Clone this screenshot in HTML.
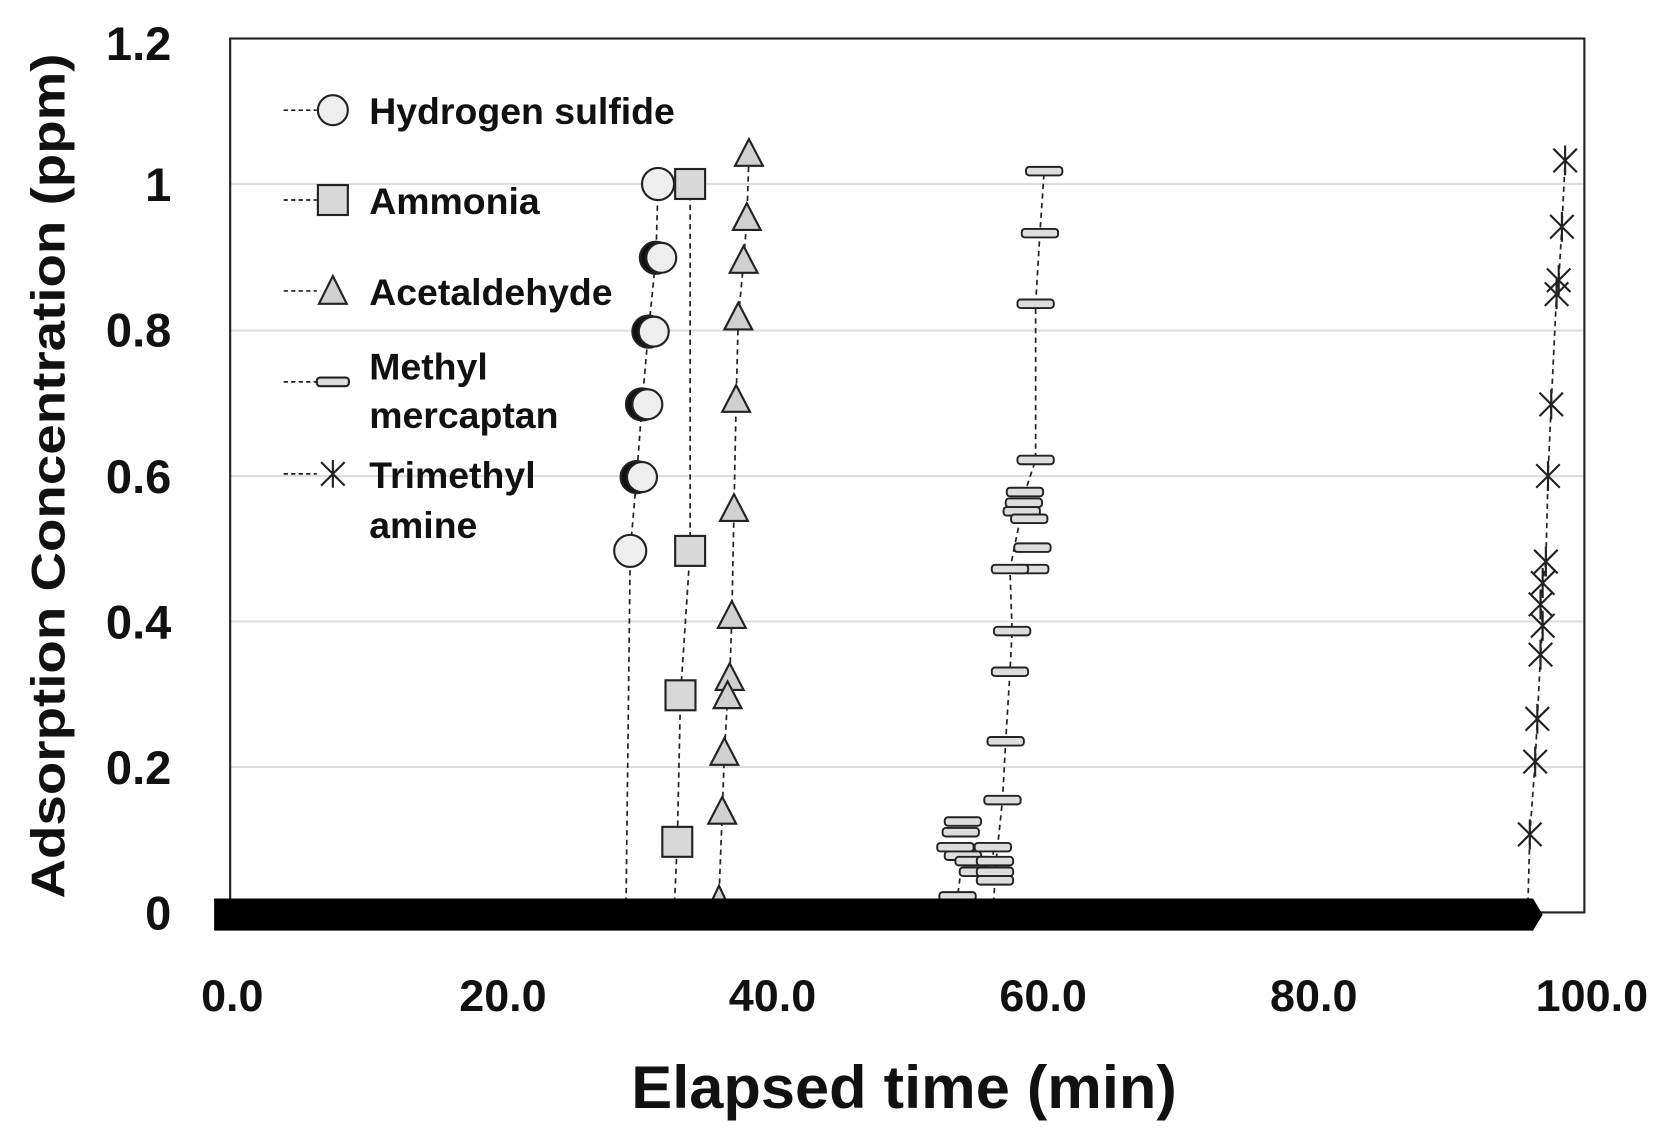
<!DOCTYPE html>
<html><head><meta charset="utf-8"><style>
html,body{margin:0;padding:0;background:#fff;}
svg text{font-family:"Liberation Sans","DejaVu Sans",sans-serif;font-weight:bold;fill:#111;}
</style></head><body>
<svg width="1668" height="1136" viewBox="0 0 1559 1062" xmlns="http://www.w3.org/2000/svg">
<rect width="1559" height="1062" fill="#fff"/>
<g stroke="#ddd" stroke-width="2">
<line x1="215" y1="172" x2="1481" y2="172"/><line x1="215" y1="309" x2="1481" y2="309"/>
<line x1="215" y1="445" x2="1481" y2="445"/><line x1="215" y1="581" x2="1481" y2="581"/>
<line x1="215" y1="717" x2="1481" y2="717"/>
</g>
<rect x="215" y="36" width="1266" height="817" fill="none" stroke="#222" stroke-width="2"/>
<!-- y ticks -->
<g font-size="44" text-anchor="end">
<text x="160" y="56">1.2</text><text x="160" y="188">1</text><text x="160" y="324">0.8</text>
<text x="160" y="461">0.6</text><text x="160" y="597">0.4</text><text x="160" y="733">0.2</text>
<text x="160" y="869">0</text></g>
<g font-size="42" text-anchor="middle">
<text x="217" y="945">0.0</text><text x="470" y="945">20.0</text><text x="722" y="945">40.0</text>
<text x="975" y="945">60.0</text><text x="1228" y="945">80.0</text><text x="1488" y="945">100.0</text></g>
<text x="845" y="1036" font-size="56" text-anchor="middle" textLength="510" lengthAdjust="spacingAndGlyphs">Elapsed time (min)</text>
<text transform="translate(60,445) rotate(-90)" font-size="44" text-anchor="middle" textLength="790" lengthAdjust="spacingAndGlyphs">Adsorption Concentration (ppm)</text>
<!-- series lines -->
<g fill="none" stroke="#222" stroke-width="1.6" stroke-dasharray="5,4">
<polyline points="585,853 589,515 595,446 600,378 606,310 613,241 615,172"/>
<polyline points="630,853 633,787 636,650 645,515 645,172"/>
<polyline points="670,853 672,838 675,760 677,705 680,652 682,635 684,577 686,477 688,375 690,298 695,245 698,205 700,145"/>
<polyline points="895,853 895,838 900,800 910,805 930,815 937,748 940,693 944,628 946,590 944,532 955,478 958,460 968,430 968,284 972,218 976,160"/>
<polyline points="928,853 930,823 928,792"/>
<polyline points="1428,853 1430,780 1435,712 1437,672 1440,612 1442,585 1440,565 1442,545 1445,525 1447,445 1450,378 1455,275 1457,262 1460,212 1463,150"/>
</g>
<!-- H2S circles -->
<g stroke="#222" stroke-width="2" fill="#eee">
<circle cx="613" cy="241" r="15" fill="#111"/><circle cx="606" cy="310" r="15" fill="#111"/><circle cx="600" cy="378" r="15" fill="#111"/><circle cx="595" cy="446" r="15" fill="#111"/>
<circle cx="615" cy="172" r="15"/><circle cx="618" cy="241" r="14"/><circle cx="611" cy="310" r="14"/><circle cx="605" cy="378" r="14"/><circle cx="600" cy="446" r="14"/><circle cx="589" cy="515" r="15"/>
</g>
<!-- squares -->
<g stroke="#222" stroke-width="2" fill="#d8d8d8">
<rect x="631" y="158" width="28" height="28"/><rect x="631" y="501" width="28" height="28"/>
<rect x="622" y="636" width="28" height="28"/><rect x="619" y="773" width="28" height="28"/>
</g>
<!-- triangles -->
<g stroke="#222" stroke-width="2" fill="#d0d0d0">
<polygon points="700,130 713,155 687,155"/><polygon points="698,190 711,215 685,215"/><polygon points="695,230 708,255 682,255"/>
<polygon points="690,283 703,308 677,308"/><polygon points="688,360 701,385 675,385"/><polygon points="686,462 699,487 673,487"/>
<polygon points="684,562 697,587 671,587"/><polygon points="682,620 695,645 669,645"/><polygon points="680,637 693,662 667,662"/>
<polygon points="677,690 690,715 664,715"/><polygon points="675,745 688,770 662,770"/><polygon points="672,828 680,845 664,845"/>
</g>
<!-- methyl mercaptan -->
<g stroke="#222" stroke-width="1.8" fill="#ddd">
<rect x="959" y="156" width="34" height="8" rx="3"/><rect x="955" y="214" width="34" height="8" rx="3"/><rect x="951" y="280" width="34" height="8" rx="3"/>
<rect x="951" y="426" width="34" height="8" rx="3"/><rect x="941" y="456" width="34" height="8" rx="3"/><rect x="940" y="466" width="34" height="8" rx="3"/>
<rect x="938" y="474" width="34" height="8" rx="3"/><rect x="945" y="481" width="34" height="8" rx="3"/><rect x="948" y="508" width="34" height="8" rx="3"/>
<rect x="946" y="528" width="34" height="8" rx="3"/><rect x="927" y="528" width="34" height="8" rx="3"/><rect x="929" y="586" width="34" height="8" rx="3"/>
<rect x="927" y="624" width="34" height="8" rx="3"/><rect x="923" y="689" width="34" height="8" rx="3"/><rect x="920" y="744" width="34" height="8" rx="3"/>
<rect x="883" y="764" width="34" height="8" rx="3"/><rect x="881" y="774" width="34" height="8" rx="3"/><rect x="876" y="788" width="34" height="8" rx="3"/>
<rect x="911" y="788" width="34" height="8" rx="3"/><rect x="883" y="796" width="34" height="8" rx="3"/><rect x="893" y="801" width="34" height="8" rx="3"/>
<rect x="913" y="801" width="34" height="8" rx="3"/><rect x="897" y="811" width="34" height="8" rx="3"/><rect x="913" y="811" width="34" height="8" rx="3"/>
<rect x="913" y="819" width="34" height="8" rx="3"/><rect x="878" y="834" width="34" height="8" rx="3"/>
</g>
<!-- asterisks -->
<g stroke="#222" stroke-width="2" fill="none">
<path id="ast" d="M0,-14 L0,14 M-11,-11 L11,11 M-11,11 L11,-11" transform="translate(1463,150)"/>
<path d="M0,-14 L0,14 M-11,-11 L11,11 M-11,11 L11,-11" transform="translate(1460,212)"/>
<path d="M0,-14 L0,14 M-11,-11 L11,11 M-11,11 L11,-11" transform="translate(1457,262)"/>
<path d="M0,-14 L0,14 M-11,-11 L11,11 M-11,11 L11,-11" transform="translate(1455,275)"/>
<path d="M0,-14 L0,14 M-11,-11 L11,11 M-11,11 L11,-11" transform="translate(1450,378)"/>
<path d="M0,-14 L0,14 M-11,-11 L11,11 M-11,11 L11,-11" transform="translate(1447,445)"/>
<path d="M0,-14 L0,14 M-11,-11 L11,11 M-11,11 L11,-11" transform="translate(1445,525)"/>
<path d="M0,-14 L0,14 M-11,-11 L11,11 M-11,11 L11,-11" transform="translate(1442,545)"/>
<path d="M0,-14 L0,14 M-11,-11 L11,11 M-11,11 L11,-11" transform="translate(1440,565)"/>
<path d="M0,-14 L0,14 M-11,-11 L11,11 M-11,11 L11,-11" transform="translate(1442,585)"/>
<path d="M0,-14 L0,14 M-11,-11 L11,11 M-11,11 L11,-11" transform="translate(1440,612)"/>
<path d="M0,-14 L0,14 M-11,-11 L11,11 M-11,11 L11,-11" transform="translate(1437,672)"/>
<path d="M0,-14 L0,14 M-11,-11 L11,11 M-11,11 L11,-11" transform="translate(1435,712)"/>
<path d="M0,-14 L0,14 M-11,-11 L11,11 M-11,11 L11,-11" transform="translate(1430,780)"/>
</g>
<!-- thick band at zero -->
<polygon points="200,840 1433,840 1442,855 1433,870 200,870" fill="#000"/>
<!-- legend -->
<g stroke="#222" stroke-width="1.6" stroke-dasharray="4,3">
<line x1="265" y1="103" x2="296" y2="103"/><line x1="265" y1="187" x2="296" y2="187"/>
<line x1="265" y1="272" x2="296" y2="272"/><line x1="265" y1="357" x2="296" y2="357"/>
<line x1="265" y1="443" x2="296" y2="443"/></g>
<g stroke="#222" stroke-width="2">
<circle cx="311" cy="103" r="14" fill="#eee"/>
<rect x="297" y="173" width="28" height="28" fill="#d8d8d8"/>
<polygon points="311,258 324,284 298,284" fill="#d0d0d0"/>
<rect x="296" y="353" width="30" height="8" rx="3" fill="#ddd"/>
<path d="M311,430 L311,456 M300,432 L322,454 M300,454 L322,432" fill="none"/>
</g>
<g font-size="35">
<text x="345" y="116">Hydrogen sulfide</text>
<text x="345" y="200">Ammonia</text>
<text x="345" y="285">Acetaldehyde</text>
<text x="345" y="355">Methyl</text>
<text x="345" y="400">mercaptan</text>
<text x="345" y="456">Trimethyl</text>
<text x="345" y="503">amine</text>
</g>
</svg>
</body></html>
